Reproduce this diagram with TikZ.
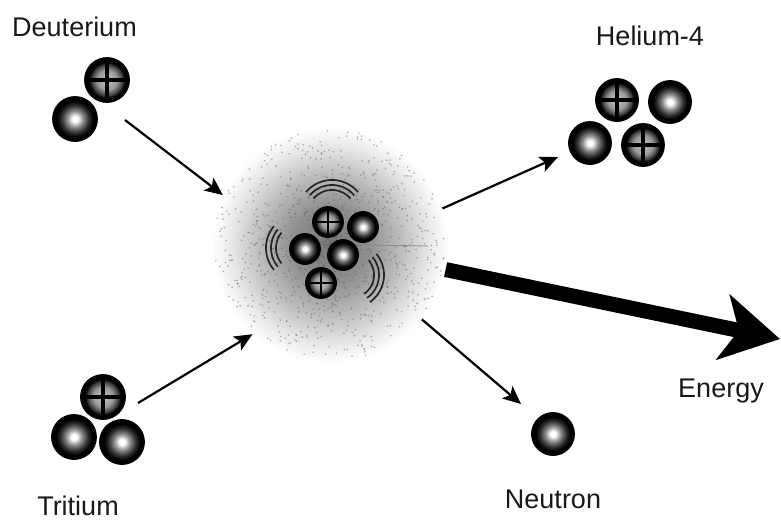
\documentclass[tikz,border=0pt]{standalone}
\usepackage{fontspec}
\setmainfont{Liberation Sans}
\usetikzlibrary{arrows.meta,calc}

% radial shadings: the rim of a shaded circle sits at 25bp
\pgfdeclareradialshading{neutronglow}{\pgfpoint{0bp}{0bp}}{%
  color(0bp)=(white); color(3bp)=(white); color(9bp)=(black!45);
  color(15bp)=(black!80); color(20bp)=(black); color(50bp)=(black)}
\pgfdeclareradialshading{protonglow}{\pgfpoint{0bp}{0bp}}{%
  color(0bp)=(black!22); color(11bp)=(black!40); color(17bp)=(black!75);
  color(20bp)=(black); color(50bp)=(black)}
\pgfdeclareradialshading{fusionhaze}{\pgfpoint{0bp}{0bp}}{%
  color(0bp)=(black!52); color(8bp)=(black!44); color(15bp)=(black!26);
  color(21bp)=(black!9); color(25bp)=(white); color(50bp)=(white)}

\tikzset{
  particle/.style={circle, inner sep=0pt, minimum size=#1pt, draw=black,
    line width=0.8pt, shade},
  neutron/.style={particle=#1, shading=neutronglow},
  proton/.style={particle=#1, shading=protonglow,
    path picture={\draw[black, line width=#1*0.075pt]
      (path picture bounding box.north) -- (path picture bounding box.south)
      (path picture bounding box.west) -- (path picture bounding box.east);}},
  caption/.style={font=\fontsize{27}{31}\selectfont, text=black!90,
    anchor=base, inner sep=0pt},
  flow/.style={line width=2.2pt, -{Stealth[length=18pt,width=16pt,inset=4pt]}},
  energyflow/.style={line width=15pt, -{Stealth[length=58pt,width=66pt,inset=16pt]}},
  wave/.style={line width=1.7pt, black!85},
}

\begin{document}
\begin{tikzpicture}[x=1pt, y=-1pt]
\useasboundingbox (0,0) rectangle (781,522);

% glowing fusion cloud
\node[circle, inner sep=0pt, minimum size=236pt, shade, shading=fusionhaze]
  (fusion) at (330,245) {};
\pgfmathsetseed{1234}
\foreach \k in {1,...,1100}{
  \pgfmathsetmacro\ang{360*rnd}
  \pgfmathsetmacro\rad{116*rnd}
  \fill[black!60, opacity=0.5] ($(fusion.center)+(\ang:\rad)$) circle[radius=0.9pt];
}
\draw[black!45, line width=0.8pt] (367,245) -- (428,246);

% vibration marks round the compound nucleus
\foreach \r in {24,29,34}
  \draw[wave] plot[domain=-140:-40, samples=25] ({332+\r*cos(\x)},{214+\r*sin(\x)});
\foreach \r in {24,29,34}
  \draw[wave] plot[domain=140:220, samples=25] ({300+\r*cos(\x)},{248+\r*sin(\x)});
\foreach \r in {23,28,33}
  \draw[wave] plot[domain=-40:55, samples=25] ({351+\r*cos(\x)},{275+\r*sin(\x)});

% deuterium
\node[proton=45] (dp) at (107,80) {};
\node[neutron=45] (dn) at (75,119) {};
% tritium
\node[proton=45] (tp) at (103,397) {};
\node[neutron=45] (tn1) at (74,437) {};
\node[neutron=45] (tn2) at (122,442) {};
% compound nucleus
\node[proton=31] (cp1) at (328,222) {};
\node[neutron=31] (cn1) at (363,227) {};
\node[neutron=31] (cn2) at (305,249) {};
\node[neutron=31] (cn3) at (343,255) {};
\node[proton=31] (cp2) at (321,283) {};
% helium-4
\node[proton=43] (hp1) at (617,100) {};
\node[neutron=43] (hn1) at (670,102) {};
\node[neutron=43] (hn2) at (590,143) {};
\node[proton=43] (hp2) at (643,145) {};
% free neutron
\node[neutron=43] (nout) at (553,434) {};

% arrow ends
\coordinate (dstart) at (125,120);
\coordinate (tstart) at (138,403);
\coordinate (hend) at (558,157);
\coordinate (nend) at (521,404);
\coordinate (etip) at (780,339);

\draw[flow] (dstart) -- (fusion.155);
\draw[flow] (tstart) -- (fusion.229);
\draw[flow] (fusion.18) -- (hend);
\draw[flow] (fusion.-39) -- (nend);
\draw[energyflow] (fusion.-12) -- (etip);

% captions
\node[caption] (tdeut) at (74.5,36) {Deuterium};
\node[caption] (ttrit) at (78,515) {Tritium};
\node[caption] (thel) at (650,45) {Helium-4};
\node[caption] (tneu) at (553,508) {Neutron};
\node[caption] (tene) at (721,397) {Energy};
\end{tikzpicture}
\end{document}
